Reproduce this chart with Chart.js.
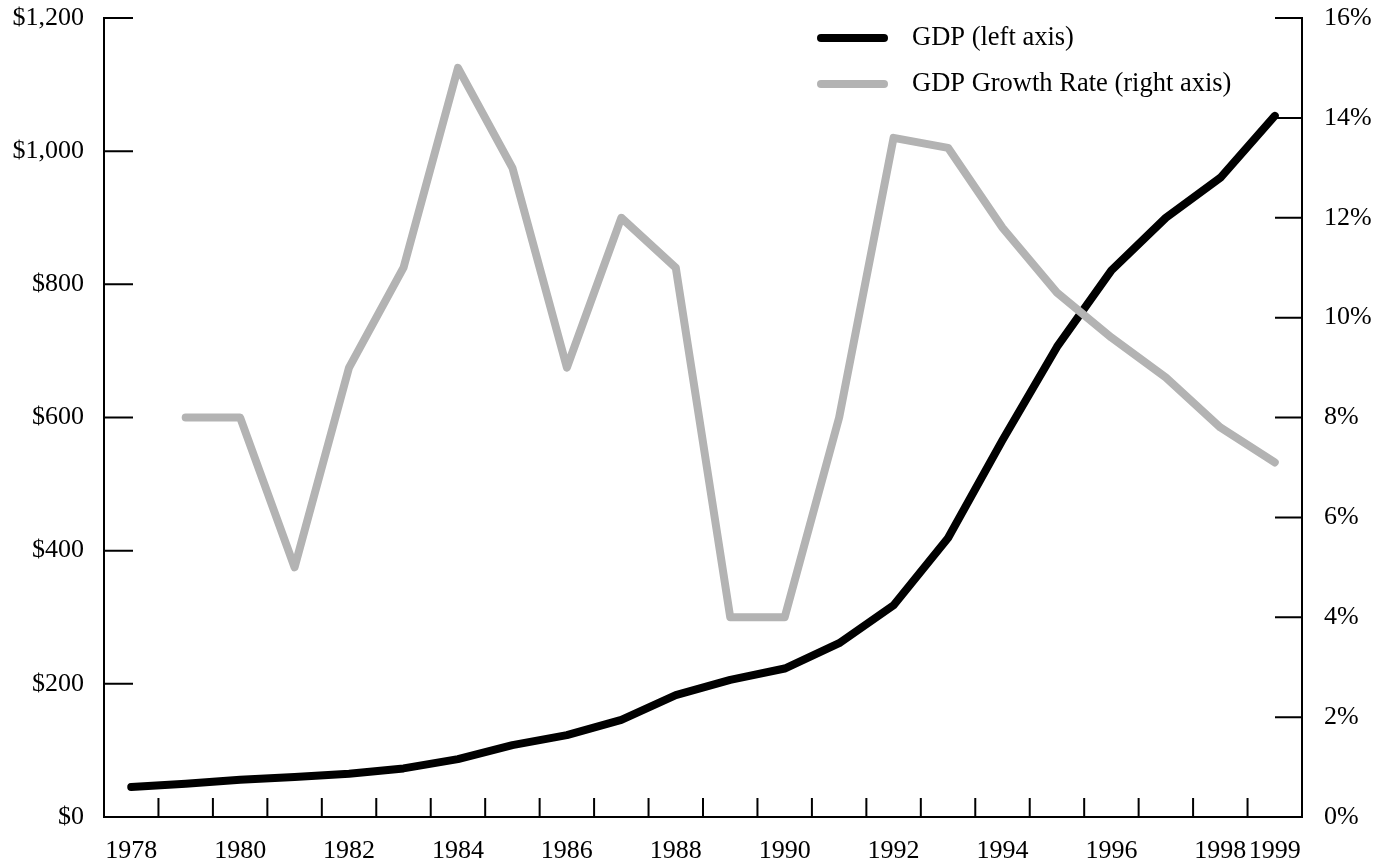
<!DOCTYPE html>
<html>
<head>
<meta charset="utf-8">
<script src="https://cdn.jsdelivr.net/npm/chart.js@4.4.0/dist/chart.umd.min.js"></script>
<style>
    html, body { margin: 0; padding: 0; background: #fff; }
</style>
</head>
<body>
<canvas id="gdpChart" width="1387" height="863"></canvas>
<script>
// ================ data ================
const years = [1978, 1979, 1980, 1981, 1982, 1983, 1984, 1985, 1986, 1987, 1988,
               1989, 1990, 1991, 1992, 1993, 1994, 1995, 1996, 1997, 1998, 1999];
const gdp = [45, 50, 56, 60, 65, 73, 87, 108, 123, 146, 183,
             206, 223, 261, 318, 419, 566, 706, 821, 900, 960, 1053];
const growthRate = [null, 8, 8, 5, 9, 11, 15, 13, 9, 12, 11,
                    4, 4, 8, 13.6, 13.4, 11.8, 10.5, 9.6, 8.8, 7.8, 7.1];
const gdpLabel = 'GDP (left axis)';
const growthLabel = 'GDP Growth Rate (right axis)';

const FONT = '"Liberation Serif", "Times New Roman", serif';
const FONT_SIZE = 26;

// inward tick marks on all three axes
const axisTicks = {
    id: 'axisTicks',
    beforeDatasetsDraw(chart) {
        const { ctx, chartArea, scales } = chart;
        ctx.save();
        ctx.strokeStyle = '#000';
        ctx.lineWidth = 2;
        ctx.beginPath();
        scales.y.ticks.forEach(t => {
            const py = scales.y.getPixelForValue(t.value);
            ctx.moveTo(chartArea.left, py);
            ctx.lineTo(chartArea.left + 29, py);
        });
        scales.y1.ticks.forEach(t => {
            const py = scales.y1.getPixelForValue(t.value);
            ctx.moveTo(chartArea.right, py);
            ctx.lineTo(chartArea.right - 27, py);
        });
        for (let i = 0; i < years.length - 1; i++) {
            const px = (scales.x.getPixelForValue(i) + scales.x.getPixelForValue(i + 1)) / 2;
            ctx.moveTo(px, chartArea.bottom);
            ctx.lineTo(px, chartArea.bottom - 19);
        }
        ctx.stroke();
        ctx.restore();
    }
};

// legend with long thick line samples, top right
const lineLegend = {
    id: 'lineLegend',
    afterDraw(chart) {
        const ctx = chart.ctx;
        chart.data.datasets.forEach((ds, i) => {
            const y = 38 + i * 46;
            ctx.save();
            ctx.strokeStyle = ds.borderColor;
            ctx.lineWidth = 8;
            ctx.lineCap = 'round';
            ctx.beginPath();
            ctx.moveTo(821, y);
            ctx.lineTo(884, y);
            ctx.stroke();
            ctx.fillStyle = '#000';
            ctx.font = '26.5px ' + FONT;
            ctx.textBaseline = 'middle';
            ctx.fillText(ds.label, 912, y);
            ctx.restore();
        });
    }
};

// fixed axis sizes, no extra label padding around the plot
function fixWidth(w) {
    return s => { s.width = w; s.paddingTop = 0; s.paddingBottom = 0; };
}

const ctx = document.getElementById('gdpChart').getContext('2d');
new Chart(ctx, {
    type: 'line',
    data: {
        labels: years,
        datasets: [{
            label: gdpLabel,
            data: gdp,
            yAxisID: 'y',
            borderColor: '#000000',
            borderWidth: 8,
            borderCapStyle: 'round',
            borderJoinStyle: 'round',
            pointRadius: 0,
            tension: 0,
            order: 1
        }, {
            label: growthLabel,
            data: growthRate,
            yAxisID: 'y1',
            borderColor: '#b3b3b3',
            borderWidth: 8,
            borderCapStyle: 'round',
            borderJoinStyle: 'round',
            pointRadius: 0,
            tension: 0,
            order: 0
        }]
    },
    options: {
        responsive: false,
        animation: false,
        devicePixelRatio: 1,
        layout: { padding: { top: 18, left: 0, right: 0, bottom: 0 } },
        plugins: {
            legend: { display: false },
            tooltip: { enabled: false }
        },
        scales: {
            x: {
                type: 'category',
                offset: true,
                afterFit: s => { s.height = 46; s.paddingLeft = 0; s.paddingRight = 0; },
                grid: { display: true, drawOnChartArea: false, drawTicks: false },
                border: { display: true, color: '#000', width: 2 },
                ticks: {
                    autoSkip: false,
                    maxRotation: 0,
                    minRotation: 0,
                    padding: 19,
                    color: '#000',
                    font: { family: FONT, size: FONT_SIZE },
                    callback: (val, idx) =>
                        (years[idx] % 2 === 0 || idx === years.length - 1) ? String(years[idx]) : ''
                }
            },
            y: {
                position: 'left',
                min: 0,
                max: 1200,
                afterFit: fixWidth(104),
                grid: { display: true, drawOnChartArea: false, drawTicks: false },
                border: { display: true, color: '#000', width: 2 },
                ticks: {
                    stepSize: 200,
                    padding: 20,
                    color: '#000',
                    font: { family: FONT, size: FONT_SIZE },
                    callback: v => '$' + v.toLocaleString('en-US')
                }
            },
            y1: {
                position: 'right',
                min: 0,
                max: 16,
                afterFit: fixWidth(85),
                grid: { display: true, drawOnChartArea: false, drawTicks: false },
                border: { display: true, color: '#000', width: 2 },
                ticks: {
                    stepSize: 2,
                    padding: 22,
                    color: '#000',
                    font: { family: FONT, size: FONT_SIZE },
                    callback: v => v + '%'
                }
            }
        }
    },
    plugins: [axisTicks, lineLegend]
});
</script>
</body>
</html>
